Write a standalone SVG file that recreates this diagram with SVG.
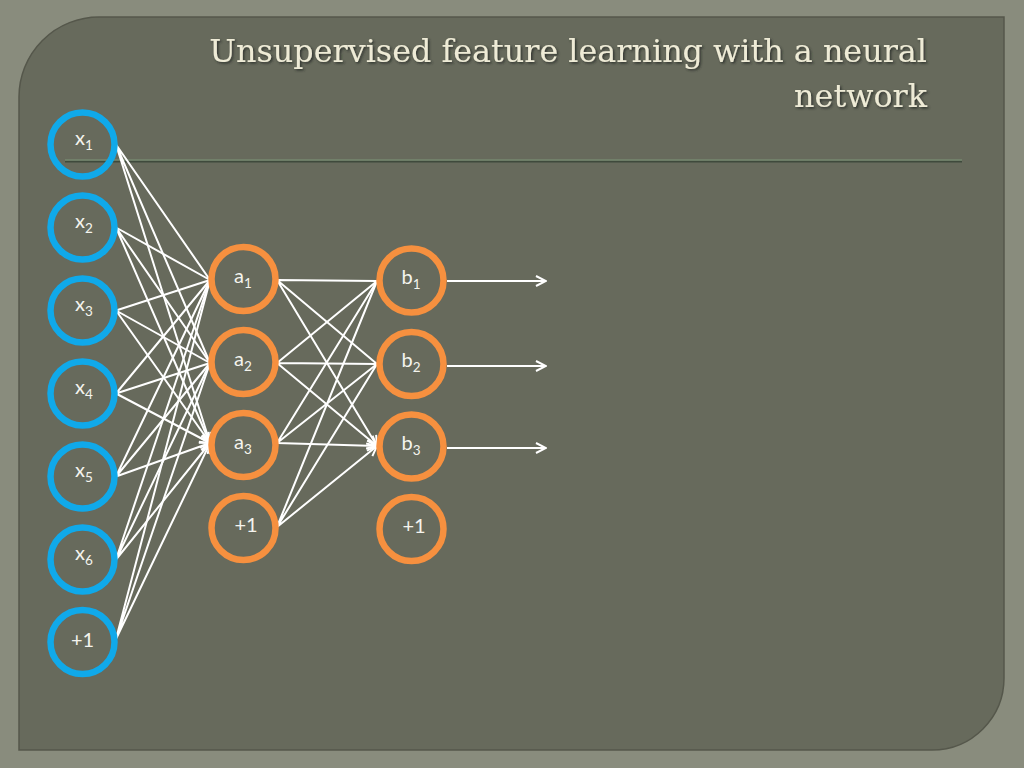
<svg xmlns="http://www.w3.org/2000/svg" width="1024" height="768" viewBox="0 0 1024 768">
<defs>
<style>
.blue{fill:none;stroke:#10a9ea;stroke-width:6.5}
.orange{fill:none;stroke:#f6903f;stroke-width:6.5}
.edge{stroke:#ffffff;stroke-width:2;fill:none;marker-end:url(#arr)}
.lbl{font-family:Lato,"Liberation Sans",sans-serif;font-size:20px;fill:#f4f4ee;text-anchor:middle}
.sub{font-size:13.5px}
.title{font-family:"DejaVu Serif","Liberation Serif",serif;font-size:31.8px;fill:#eeebd6;text-anchor:end}
</style>
<marker id="arr" viewBox="0 0 12 12" refX="11" refY="6" markerWidth="12" markerHeight="12" markerUnits="userSpaceOnUse" orient="auto">
<path d="M1,1 L11,6 L1,11" fill="none" stroke="#ffffff" stroke-width="2"/>
</marker>
<filter id="sh" x="-5%" y="-20%" width="110%" height="150%">
<feDropShadow dx="1.5" dy="1.5" stdDeviation="0.8" flood-color="#2c2d26" flood-opacity="0.9"/>
</filter>
</defs>
<rect width="1024" height="768" fill="#898c7d"/>
<path d="M99,17 H1004 V678 A72,72 0 0 1 932,750 H19 V97 A80,80 0 0 1 99,17 Z" fill="#676a5c" stroke="#55574b" stroke-width="1.5"/>
<g id="title" filter="url(#sh)">
<text class="title" x="927" y="62">Unsupervised feature learning with a neural</text>
<text class="title" x="927" y="107">network</text>
</g>
<line x1="65" y1="161.5" x2="962" y2="161.5" stroke="#3f4a3c" stroke-width="2"/>
<line x1="65" y1="160" x2="962" y2="160" stroke="#76896f" stroke-width="1.6"/>
<g id="connectors">
<path class="edge" d="M116,144.5 L210,280 M116,144.5 L210,363 M116,144.5 L210,443"/>
<path class="edge" d="M116,227.5 L210,280 M116,227.5 L210,363 M116,227.5 L210,443"/>
<path class="edge" d="M116,310.5 L210,280 M116,310.5 L210,363 M116,310.5 L210,443"/>
<path class="edge" d="M116,393.5 L210,280 M116,393.5 L210,363 M116,393.5 L210,443"/>
<path class="edge" d="M116,476.5 L210,280 M116,476.5 L210,363 M116,476.5 L210,443"/>
<path class="edge" d="M116,559.5 L210,280 M116,559.5 L210,363 M116,559.5 L210,443"/>
<path class="edge" d="M116,639 L210,280 M116,639 L210,363 M116,639 L210,443"/>
<path class="edge" d="M277,280 L377,281 M277,280 L377,364 M277,280 L377,446"/>
<path class="edge" d="M277,363 L377,281 M277,363 L377,364 M277,363 L377,446"/>
<path class="edge" d="M277,443 L377,281 M277,443 L377,364 M277,443 L377,446"/>
<path class="edge" d="M277,527 L377,281 M277,527 L377,364 M277,527 L377,446"/>
<path class="edge" d="M447,281 L546,281"/>
<path class="edge" d="M447,366 L546,366"/>
<path class="edge" d="M447,448 L546,448"/>
</g>
<g id="x1"><circle class="blue" cx="82.5" cy="144.5" r="32"/><text class="lbl" x="84" y="145">x<tspan class="sub" dy="5">1</tspan></text></g>
<g id="x2"><circle class="blue" cx="82.5" cy="227.5" r="32"/><text class="lbl" x="84" y="228">x<tspan class="sub" dy="5">2</tspan></text></g>
<g id="x3"><circle class="blue" cx="82.5" cy="310.5" r="32"/><text class="lbl" x="84" y="311">x<tspan class="sub" dy="5">3</tspan></text></g>
<g id="x4"><circle class="blue" cx="82.5" cy="393.5" r="32"/><text class="lbl" x="84" y="394">x<tspan class="sub" dy="5">4</tspan></text></g>
<g id="x5"><circle class="blue" cx="82.5" cy="476.5" r="32"/><text class="lbl" x="84" y="477">x<tspan class="sub" dy="5">5</tspan></text></g>
<g id="x6"><circle class="blue" cx="82.5" cy="559.5" r="32"/><text class="lbl" x="84" y="560">x<tspan class="sub" dy="5">6</tspan></text></g>
<g id="xbias"><circle class="blue" cx="82.5" cy="642" r="32"/><text class="lbl" x="82.5" y="647">+1</text></g>
<g id="a1"><circle class="orange" cx="243.5" cy="279" r="32"/><text class="lbl" x="243" y="283">a<tspan class="sub" dy="5">1</tspan></text></g>
<g id="a2"><circle class="orange" cx="243.5" cy="362" r="32"/><text class="lbl" x="243" y="366">a<tspan class="sub" dy="5">2</tspan></text></g>
<g id="a3"><circle class="orange" cx="243.5" cy="445" r="32"/><text class="lbl" x="243" y="449">a<tspan class="sub" dy="5">3</tspan></text></g>
<g id="abias"><circle class="orange" cx="243.5" cy="528" r="32"/><text class="lbl" x="246" y="532">+1</text></g>
<g id="b1"><circle class="orange" cx="411.5" cy="280.5" r="32"/><text class="lbl" x="411" y="284">b<tspan class="sub" dy="5">1</tspan></text></g>
<g id="b2"><circle class="orange" cx="411.5" cy="364" r="32"/><text class="lbl" x="411" y="367">b<tspan class="sub" dy="5">2</tspan></text></g>
<g id="b3"><circle class="orange" cx="411.5" cy="446.5" r="32"/><text class="lbl" x="411" y="450">b<tspan class="sub" dy="5">3</tspan></text></g>
<g id="bbias"><circle class="orange" cx="411.5" cy="529" r="32"/><text class="lbl" x="414" y="533">+1</text></g>
</svg>
